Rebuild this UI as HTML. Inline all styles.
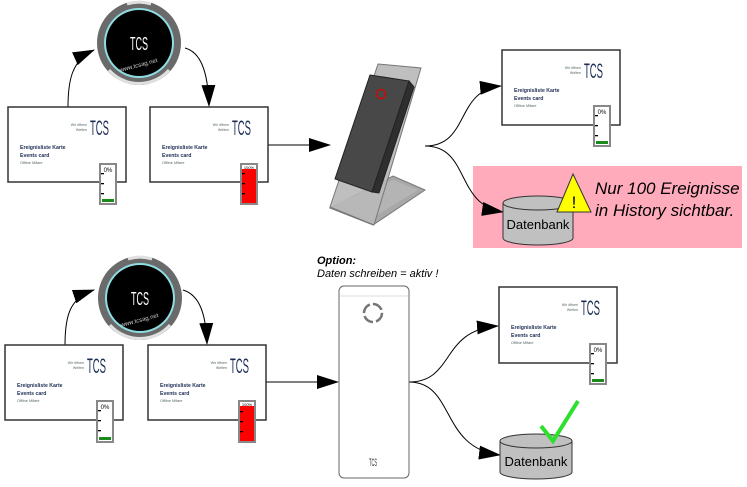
<!DOCTYPE html>
<html><head><meta charset="utf-8"><style>html,body{margin:0;padding:0;background:#fff}svg{display:block}</style></head><body>
<svg width="747" height="487" viewBox="0 0 747 487" xmlns="http://www.w3.org/2000/svg" font-family="Liberation Sans, sans-serif">
<defs>
<marker id="ah2" markerWidth="22" markerHeight="14" refX="21" refY="7" orient="auto" markerUnits="userSpaceOnUse" viewBox="0 0 22 14"><path d="M0,0 L22,7 L0,14 z" fill="#000"/></marker>
</defs>
<rect x="473" y="166" width="269" height="82" fill="#ffabbb"/>

<!-- tokens -->
<g>
<circle cx="139" cy="43" r="42" fill="#6a6a6a"/>
<path d="M109,70 A40,40 0 0 0 169,70" fill="none" stroke="#e0e0e0" stroke-width="3"/>
<path d="M127,4 A40,40 0 0 1 151,4" fill="none" stroke="#e0e0e0" stroke-width="3"/>
<circle cx="139" cy="43" r="35" fill="#8fdde4"/>
<circle cx="139" cy="43" r="33" fill="#000"/>
<text x="130" y="50" font-size="18" fill="#fff" textLength="18" lengthAdjust="spacingAndGlyphs">TCS</text>
<text x="139" y="67" font-size="6" fill="#ccc" text-anchor="middle" transform="rotate(-15 139 67)">www.tcsag.net</text>
</g>
<g transform="translate(1,255)">
<circle cx="139" cy="43" r="42" fill="#6a6a6a"/>
<path d="M109,70 A40,40 0 0 0 169,70" fill="none" stroke="#e0e0e0" stroke-width="3"/>
<path d="M127,4 A40,40 0 0 1 151,4" fill="none" stroke="#e0e0e0" stroke-width="3"/>
<circle cx="139" cy="43" r="35" fill="#8fdde4"/>
<circle cx="139" cy="43" r="33" fill="#000"/>
<text x="130" y="50" font-size="18" fill="#fff" textLength="18" lengthAdjust="spacingAndGlyphs">TCS</text>
<text x="139" y="67" font-size="6" fill="#ccc" text-anchor="middle" transform="rotate(-15 139 67)">www.tcsag.net</text>
</g>

<!-- arrows top -->
<path d="M68,107 C68,80 72,60 94,50" fill="none" stroke="#000" stroke-width="1" marker-end="url(#ah2)"/>
<path d="M185,48 C200,52 208,70 209,106" fill="none" stroke="#000" stroke-width="1" marker-end="url(#ah2)"/>
<path d="M268,145 L330,145" fill="none" stroke="#000" stroke-width="1" marker-end="url(#ah2)"/>
<path d="M425,146 C470,146 455,90 501,86" fill="none" stroke="#000" stroke-width="1" marker-end="url(#ah2)"/>
<path d="M425,146 C470,146 455,205 503,212" fill="none" stroke="#000" stroke-width="1" marker-end="url(#ah2)"/>
<!-- arrows bottom -->
<path d="M65,345 C65,315 70,298 94,290" fill="none" stroke="#000" stroke-width="1" marker-end="url(#ah2)"/>
<path d="M183,290 C200,295 206,315 207,344" fill="none" stroke="#000" stroke-width="1" marker-end="url(#ah2)"/>
<path d="M266,382 L338,382" fill="none" stroke="#000" stroke-width="1" marker-end="url(#ah2)"/>
<path d="M409,382 C455,382 440,330 498,326" fill="none" stroke="#000" stroke-width="1" marker-end="url(#ah2)"/>
<path d="M409,382 C455,382 440,448 500,455" fill="none" stroke="#000" stroke-width="1" marker-end="url(#ah2)"/>

<!-- cards -->
<g>
<g transform="translate(8,107)">
<rect x="0" y="0" width="118" height="75" fill="#fff" stroke="#333" stroke-width="1.5"/>
<text x="79" y="19" font-size="3.6" fill="#566" text-anchor="end">Wir öffnen</text><text x="79" y="24" font-size="3.6" fill="#566" text-anchor="end">Welten</text>
<text x="82" y="28" font-size="21" fill="#1d2d55" textLength="19" lengthAdjust="spacingAndGlyphs">TCS</text>
<text x="12" y="42" font-size="5.2" font-weight="bold" fill="#1d2d55">Ereignisliste Karte</text>
<text x="12" y="50" font-size="5.2" font-weight="bold" fill="#1d2d55">Events card</text>
<text x="12" y="57" font-size="3.8" fill="#566">Offline Mifare</text>
<rect x="91" y="56" width="18" height="42" fill="#888"/><rect x="93" y="58" width="14" height="38" fill="#fff"/><rect x="94" y="92" width="12" height="3" fill="#1a8a1a"/>
<text x="100" y="65" font-size="6" text-anchor="middle">0%</text>
<rect x="93" y="66" width="3" height="1.3"/><rect x="93" y="76" width="3" height="1.3"/><rect x="93" y="86" width="3" height="1.3"/>
</g>
<g transform="translate(150,107)">
<rect x="0" y="0" width="118" height="75" fill="#fff" stroke="#333" stroke-width="1.5"/>
<text x="79" y="19" font-size="3.6" fill="#566" text-anchor="end">Wir öffnen</text><text x="79" y="24" font-size="3.6" fill="#566" text-anchor="end">Welten</text>
<text x="82" y="28" font-size="21" fill="#1d2d55" textLength="19" lengthAdjust="spacingAndGlyphs">TCS</text>
<text x="12" y="42" font-size="5.2" font-weight="bold" fill="#1d2d55">Ereignisliste Karte</text>
<text x="12" y="50" font-size="5.2" font-weight="bold" fill="#1d2d55">Events card</text>
<text x="12" y="57" font-size="3.8" fill="#566">Offline Mifare</text>
<rect x="90" y="56" width="18" height="42" fill="#888"/><rect x="92" y="58" width="14" height="38" fill="#fff"/><rect x="92" y="62" width="14" height="34" fill="#f00"/>
<text x="99" y="62" font-size="4" text-anchor="middle">100%</text>
<rect x="92" y="66" width="3" height="1.3"/><rect x="92" y="76" width="3" height="1.3"/><rect x="92" y="86" width="3" height="1.3"/>
</g>
<g transform="translate(502,50)">
<rect x="0" y="0" width="118" height="75" fill="#fff" stroke="#333" stroke-width="1.5"/>
<text x="79" y="19" font-size="3.6" fill="#566" text-anchor="end">Wir öffnen</text><text x="79" y="24" font-size="3.6" fill="#566" text-anchor="end">Welten</text>
<text x="82" y="28" font-size="21" fill="#1d2d55" textLength="19" lengthAdjust="spacingAndGlyphs">TCS</text>
<text x="12" y="42" font-size="5.2" font-weight="bold" fill="#1d2d55">Ereignisliste Karte</text>
<text x="12" y="50" font-size="5.2" font-weight="bold" fill="#1d2d55">Events card</text>
<text x="12" y="57" font-size="3.8" fill="#566">Offline Mifare</text>
<rect x="91" y="55" width="18" height="42" fill="#888"/><rect x="93" y="57" width="14" height="38" fill="#fff"/><rect x="94" y="91" width="12" height="3" fill="#1a8a1a"/>
<text x="100" y="64" font-size="6" text-anchor="middle">0%</text>
<rect x="93" y="65" width="3" height="1.3"/><rect x="93" y="75" width="3" height="1.3"/><rect x="93" y="85" width="3" height="1.3"/>
</g>
<g transform="translate(5,345)">
<rect x="0" y="0" width="118" height="75" fill="#fff" stroke="#333" stroke-width="1.5"/>
<text x="79" y="19" font-size="3.6" fill="#566" text-anchor="end">Wir öffnen</text><text x="79" y="24" font-size="3.6" fill="#566" text-anchor="end">Welten</text>
<text x="82" y="28" font-size="21" fill="#1d2d55" textLength="19" lengthAdjust="spacingAndGlyphs">TCS</text>
<text x="12" y="42" font-size="5.2" font-weight="bold" fill="#1d2d55">Ereignisliste Karte</text>
<text x="12" y="50" font-size="5.2" font-weight="bold" fill="#1d2d55">Events card</text>
<text x="12" y="57" font-size="3.8" fill="#566">Offline Mifare</text>
<rect x="91" y="55" width="18" height="43" fill="#888"/><rect x="93" y="57" width="14" height="39" fill="#fff"/><rect x="94" y="92" width="12" height="3" fill="#1a8a1a"/>
<text x="100" y="64" font-size="6" text-anchor="middle">0%</text>
<rect x="93" y="65" width="3" height="1.3"/><rect x="93" y="75" width="3" height="1.3"/><rect x="93" y="85" width="3" height="1.3"/>
</g>
<g transform="translate(148,345)">
<rect x="0" y="0" width="118" height="75" fill="#fff" stroke="#333" stroke-width="1.5"/>
<text x="79" y="19" font-size="3.6" fill="#566" text-anchor="end">Wir öffnen</text><text x="79" y="24" font-size="3.6" fill="#566" text-anchor="end">Welten</text>
<text x="82" y="28" font-size="21" fill="#1d2d55" textLength="19" lengthAdjust="spacingAndGlyphs">TCS</text>
<text x="12" y="42" font-size="5.2" font-weight="bold" fill="#1d2d55">Ereignisliste Karte</text>
<text x="12" y="50" font-size="5.2" font-weight="bold" fill="#1d2d55">Events card</text>
<text x="12" y="57" font-size="3.8" fill="#566">Offline Mifare</text>
<rect x="90" y="55" width="18" height="43" fill="#888"/><rect x="92" y="57" width="14" height="39" fill="#fff"/><rect x="92" y="61" width="14" height="35" fill="#f00"/>
<text x="99" y="61" font-size="4" text-anchor="middle">100%</text>
<rect x="92" y="66" width="3" height="1.3"/><rect x="92" y="76" width="3" height="1.3"/><rect x="92" y="86" width="3" height="1.3"/>
</g>
<g transform="translate(499,287)">
<rect x="0" y="0" width="118" height="76" fill="#fff" stroke="#333" stroke-width="1.5"/>
<text x="79" y="19" font-size="3.6" fill="#566" text-anchor="end">Wir öffnen</text><text x="79" y="24" font-size="3.6" fill="#566" text-anchor="end">Welten</text>
<text x="82" y="28" font-size="21" fill="#1d2d55" textLength="19" lengthAdjust="spacingAndGlyphs">TCS</text>
<text x="12" y="42" font-size="5.2" font-weight="bold" fill="#1d2d55">Ereignisliste Karte</text>
<text x="12" y="50" font-size="5.2" font-weight="bold" fill="#1d2d55">Events card</text>
<text x="12" y="57" font-size="3.8" fill="#566">Offline Mifare</text>
<rect x="90" y="56" width="18" height="42" fill="#888"/><rect x="92" y="58" width="14" height="38" fill="#fff"/><rect x="93" y="92" width="12" height="3" fill="#1a8a1a"/>
<text x="99" y="65" font-size="6" text-anchor="middle">0%</text>
<rect x="92" y="66" width="3" height="1.3"/><rect x="92" y="76" width="3" height="1.3"/><rect x="92" y="86" width="3" height="1.3"/>
</g>
</g>

<!-- stand reader -->
<polygon points="330,208 373,225 425,190 393,176" fill="#a8a8a8" stroke="#777" stroke-width="1"/>
<polygon points="336,204 372,218 418,190 393,180" fill="#b4b4b4"/>
<polygon points="378,64 421,68 374,225 330,207" fill="#b8b8b8" fill-opacity="0.9" stroke="#777" stroke-width="1"/>
<polygon points="370,75 409,81 372,192 335,179" fill="#484848" stroke="#222" stroke-width="1"/>
<polygon points="409,81 414,87 379,193 372,192" fill="#2e2e2e" stroke="#222" stroke-width="1"/>
<circle cx="381" cy="94" r="4.5" fill="none" stroke="#d00" stroke-width="1.3"/>

<!-- white reader -->
<rect x="339" y="286" width="70" height="192" rx="5" fill="#fff" stroke="#666" stroke-width="1"/>
<line x1="340" y1="296" x2="408" y2="296" stroke="#ddd"/>
<circle cx="373" cy="313" r="9" fill="none" stroke="#777" stroke-width="2.5" stroke-dasharray="11 3"/>
<text x="369" y="466" font-size="11" fill="#333" textLength="8" lengthAdjust="spacingAndGlyphs">TCS</text>

<text x="317" y="264" font-size="11" font-weight="bold" font-style="italic">Option:</text>
<text x="317" y="277" font-size="11" font-style="italic">Daten schreiben = aktiv !</text>

<!-- databases -->
<path d="M503,203 L503,238 A35,7 0 0 0 573,238 L573,203" fill="#c0c0c0" stroke="#333" stroke-width="1"/>
<ellipse cx="538" cy="203" rx="35" ry="7" fill="#c0c0c0" stroke="#333" stroke-width="1"/>
<text x="538" y="229" font-size="13" text-anchor="middle">Datenbank</text>
<polygon points="573,174 557,212 591,212" fill="#ff0" stroke="#333" stroke-width="1"/>
<text x="574" y="208" font-size="17" text-anchor="middle">!</text>
<text x="595" y="194" font-size="17" font-style="italic">Nur 100 Ereignisse</text>
<text x="595" y="216" font-size="17" font-style="italic">in History sichtbar.</text>

<path d="M500,441 L500,472 A36,7 0 0 0 572,472 L572,441" fill="#c0c0c0" stroke="#333" stroke-width="1"/>
<ellipse cx="536" cy="441" rx="36" ry="7" fill="#c0c0c0" stroke="#333" stroke-width="1"/>
<text x="536" y="466" font-size="13" text-anchor="middle">Datenbank</text>
<polyline points="541,426 553,441 578,401" fill="none" stroke="#2de02d" stroke-width="4"/>
</svg>
</body></html>
